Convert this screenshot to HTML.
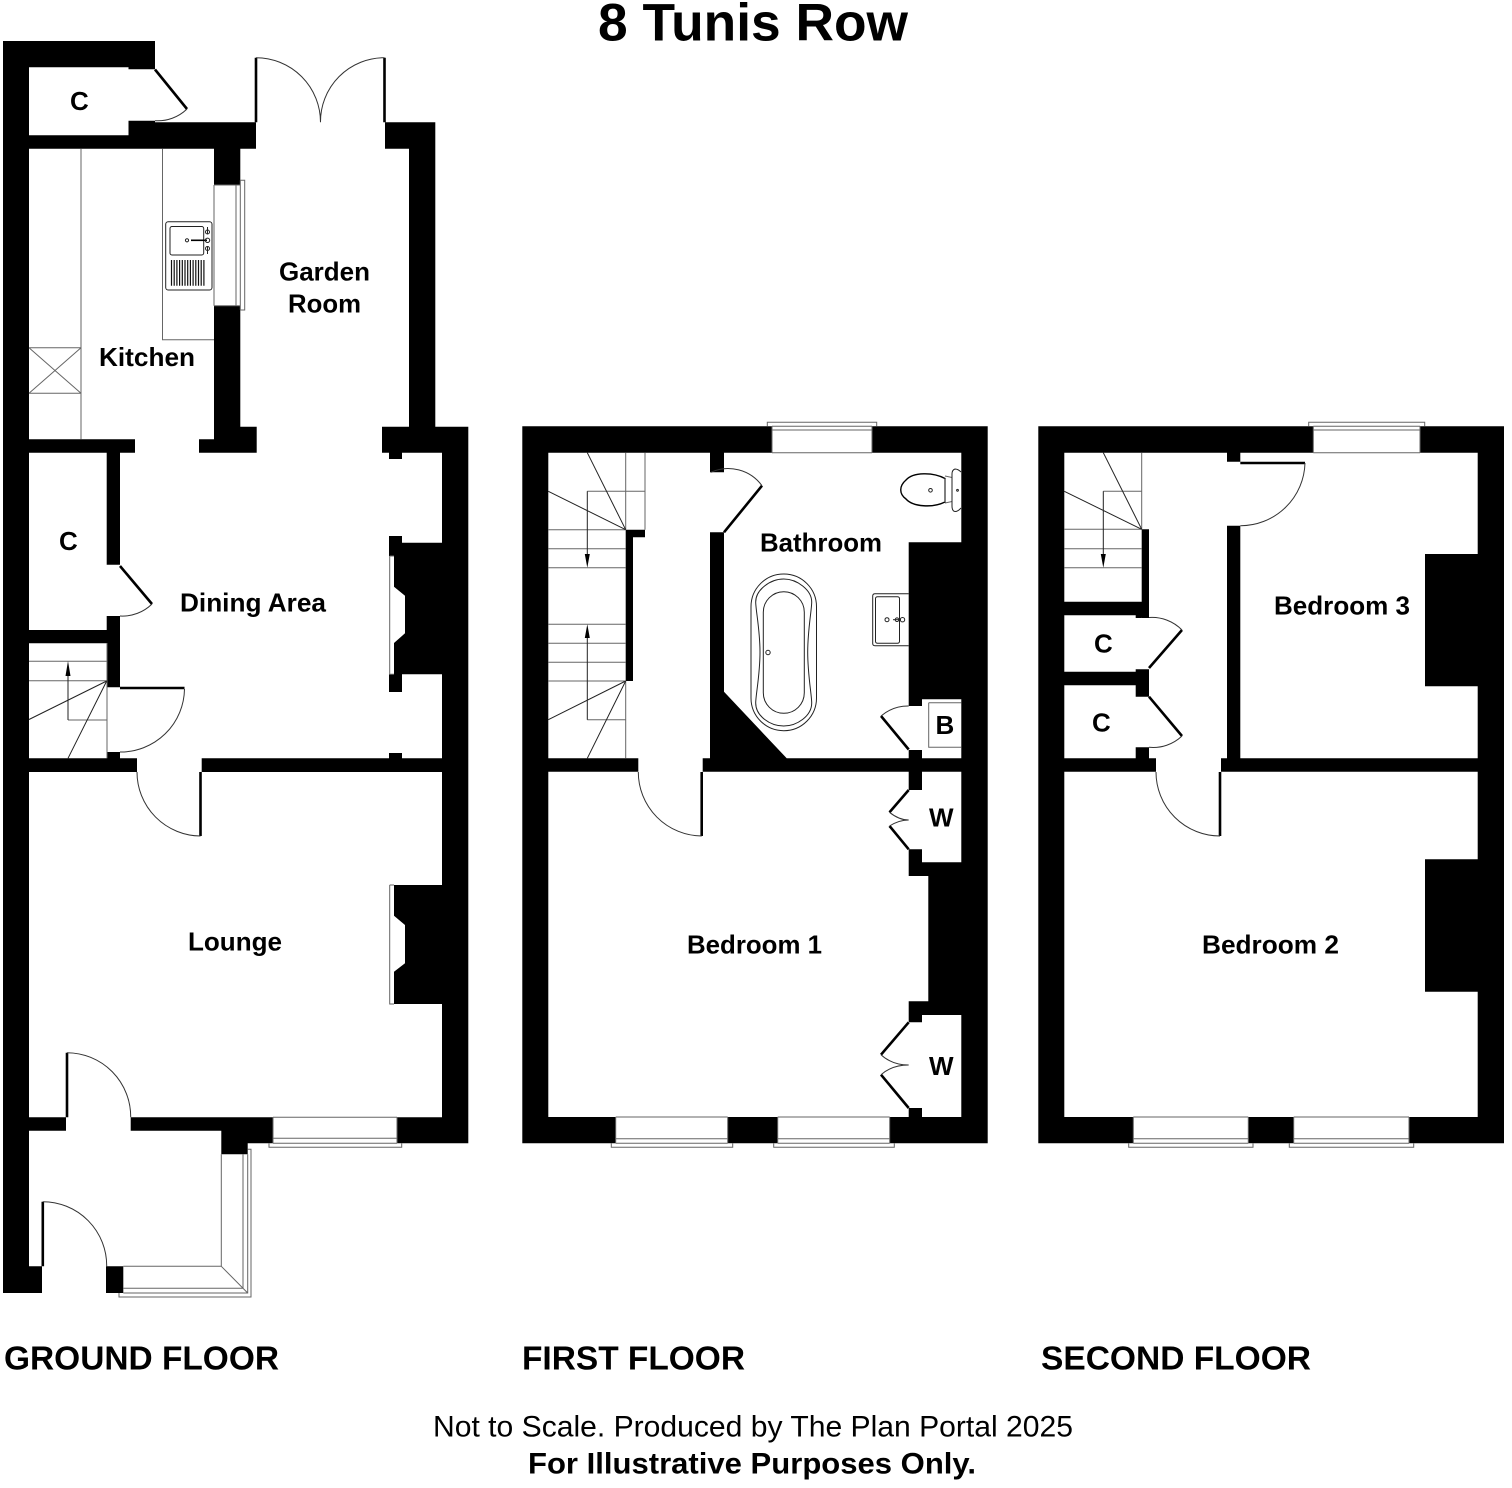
<!DOCTYPE html>
<html lang="en"><head><meta charset="utf-8"><title>8 Tunis Row</title>
<style>html,body{margin:0;padding:0;background:#fff}svg{display:block}
text{font-family:"Liberation Sans",Arial,sans-serif;font-weight:700;fill:#000}
.g{fill:none;stroke:#666;stroke-width:1}
.a{fill:none;stroke:#333;stroke-width:1}
.d{fill:none;stroke:#000;stroke-width:2.6}
.k{fill:none;stroke:#222;stroke-width:1}
</style></head><body>
<svg width="1512" height="1488" viewBox="0 0 1512 1488" xmlns="http://www.w3.org/2000/svg">
<rect width="1512" height="1488" fill="#fff"/>
<!-- Walls: ground floor -->
<path fill="#000" d="M3 41H29V1293H3Z M29 41H155V67.3H29Z M128.5 67.3H155V69.3H128.5Z M128.5 120.7H155V135.3H128.5Z M29 135.3H256V148.7H29Z M155 122.3H256V135.3H155Z
M214 148.7H240.3V185H214Z M214 305.7H240.3V452.7H214Z M240.3 426.7H256.7V452.7H240.3Z M199 439.3H214V452.7H199Z M29 439.3H135V452.7H29Z
M106.7 452.7H120V564.7H106.7Z M106.7 616H120V687.3H106.7Z M29 630H106.7V643.3H29Z M106.7 752H120V758.3H106.7Z M29 758.3H137V772H29Z M201.7 758.3H442V772H201.7Z
M385 122.3H435.3V148.7H385Z M409 148.7H435.3V426.7H409Z M382 426.7H468.3V452.7H382Z M389 452.7H402V459H389Z M442 452.7H468.3V1143.3H442Z
M394 556V586.7L405 595.7V633.3L394 643V674.3H442V542.7H402V556Z M389 536H402V556H389Z M389 674.3H402V692H389Z M389 753H402V758.3H389Z
M394 885V915.7L405 925V963.3L394 971.7V1004H442V885Z
M29 1117.3H66V1130.7H29Z M130.7 1117.3H273V1130.7H130.7Z M221.3 1130.7H273V1143.3H221.3Z M221.3 1143.3H247.7V1154.3H221.3Z M397 1117.3H442V1143.3H397Z
M29 1266.3H42V1293H29Z M106 1266.3H123.3V1293H106Z"/>
<!-- Walls: first floor -->
<path fill="#000" d="M522.3 426.3H772V452.7H522.3Z M872 426.3H987.7V452.7H872Z M522.3 452.7H548.3V1143.3H522.3Z M961.3 452.7H987.7V1143.3H961.3Z
M548.3 1117H615.7V1143.3H548.3Z M727.7 1117H777.7V1143.3H727.7Z M889.7 1117H961.3V1143.3H889.7Z
M548.3 758.3H638.3V771.7H548.3Z M702.7 758.3H961.3V771.7H702.7Z M710 452.7H724V472.3H710Z M710 532.3H724V758.3H710Z M724 691.7L786.7 758.3H724Z
M625.7 529.7H633V681H625.7Z M625.7 529.7H645V537.3H625.7Z M908.7 542.3H961.3V699.3H908.7Z M908.7 699.3H922V706H908.7Z
M908.7 750H922V790H908.7Z M908.7 849.3H922V862.3H908.7Z M908.7 862.3H928.3V876H908.7Z M928.3 862.3H961.3V1015H928.3Z M908.7 1001.3H928.3V1015H908.7Z M908.7 1015H922V1022.3H908.7Z M908.7 1108H922V1117H908.7Z"/>
<!-- Walls: second floor -->
<path fill="#000" d="M1038.3 426.3H1313.3V452.7H1038.3Z M1420 426.3H1504V452.7H1420Z M1038.3 452.7H1064.3V1143.3H1038.3Z M1477.7 452.7H1504V1143.3H1477.7Z
M1064.3 1117H1133.3V1143.3H1064.3Z M1248.3 1117H1293.7V1143.3H1248.3Z M1409 1117H1477.7V1143.3H1409Z
M1064.3 758.3H1156V771.7H1064.3Z M1221 758.3H1477.7V771.7H1221Z M1227 452.7H1240.3V461.7H1227Z M1227 525.7H1240.3V758.3H1227Z
M1141.7 529.3H1149V618H1141.7Z M1064.3 601.7H1141.7V615.3H1064.3Z M1135.7 615.3H1141.7V618H1135.7Z M1064.3 671.7H1135.7V685.3H1064.3Z M1135.7 669.3H1149V696.7H1135.7Z M1135.7 747.3H1149V758.3H1135.7Z
M1425 554H1477.7V686.3H1425Z M1425 859.3H1477.7V991.7H1425Z"/>
<!-- Door leaves -->
<path class="d" d="M155 69.5L187 109 M256 57.7V122.3 M384.5 57.7V122.3 M120 566L152 604 M120 688H184.5 M200.5 772V836 M67 1052.7V1117.3 M42.8 1201.7V1266.3
M724 532.3L762 485.7 M701.7 772V836 M908.7 749.5L881 716 M908.7 790L889.5 812.3 M889.5 826L908.7 849.3 M908.7 1022.3L881 1054.7 M881 1074.7L908.7 1108
M1240.3 463H1305 M1220 772V836 M1149 668L1182 630 M1149 696.7L1182 736"/>
<!-- Door arcs -->
<path class="a" d="M187 109A42 42 0 0 1 155 120.7 M256 57.7A64.5 64.5 0 0 1 320.5 122.3 M384.5 57.7A64 64 0 0 0 320.5 122.3 M152 604A42 42 0 0 1 120 616 M184.5 689A64 64 0 0 1 120 752
M137 772A64 64 0 0 0 200.5 836 M67 1052.7A64 64 0 0 1 130.7 1117.3 M42.8 1201.7A64 64 0 0 1 106.7 1266.3
M710.7 472.3A42 42 0 0 1 762 485.7 M638.3 772A64 64 0 0 0 701.7 836 M881 716A42 42 0 0 1 908.7 706 M889.5 812.3Q899 820 908.7 820 M889.5 826Q899 820 908.7 820
M881 1054.7Q892 1065 908.7 1065 M881 1074.7Q892 1065 908.7 1065
M1305 463A64.5 64.5 0 0 1 1240.3 525.7 M1156 772A64 64 0 0 0 1220 836 M1182 630A42 42 0 0 0 1149 617.5 M1182 736A42 42 0 0 1 1149 747.3"/>
<!-- Windows and grey lines: ground floor -->
<path class="g" d="M81 148.7V439.3 M29 347.7H81 M29 393.3H81 M29 347.7L81 393.3 M81 347.7L29 393.3 M162.5 148.7V339.7H214
M214 185V305.7 M214 185H240.3 M214 305.7H240.3 M236 185V305.7 M240.3 180.3H244.7V310H240.3 M240.3 180.3V310
M107 643V758.3 M29 661.3H107 M29 680.7H107 M68 720H107
M389.7 556V674.3H394 M389.7 556H394 M389.7 885V1004H394 M389.7 885H394
M273 1117.3H397 M273 1138.3H397 M273 1143.3H397 M269 1143.3V1147.3H401.7V1143.3 M273 1117.3V1143.3 M397 1117.3V1143.3
M123.3 1266.3H221.3V1154.3 M221.3 1266.3L247.7 1293 M243 1154.3V1288.3H123.3 M247.7 1154.3V1293H123.3 M119 1293V1297H251V1149.3H247.7"/>
<path class="k" d="M106.7 681L29 719.5 M106.7 681L68 758.3 M68 672V720"/>
<path fill="#000" d="M68 661L70.5 676H65.5Z"/>
<!-- Kitchen sink -->
<rect x="165.7" y="221.7" width="46.3" height="68.3" rx="2.5" class="k"/>
<rect x="170" y="226.5" width="33.7" height="28.5" rx="2" class="k"/>
<path d="M171.5 260V285.7 M174.2 260V285.7 M176.9 260V285.7 M179.6 260V285.7 M182.3 260V285.7 M185 260V285.7 M187.7 260V285.7 M190.4 260V285.7 M193.1 260V285.7 M195.8 260V285.7 M198.5 260V285.7 M201.2 260V285.7 M203.9 260V285.7" stroke="#111" stroke-width="1.2" fill="none"/>
<circle cx="187" cy="240.3" r="1.6" class="k"/><path d="M191 240.3H207" stroke="#000" stroke-width="1.6"/>
<circle cx="207.5" cy="240.3" r="2.2" class="k"/><circle cx="207.5" cy="232" r="2" class="k"/><circle cx="207.5" cy="248.5" r="2" class="k"/>
<path d="M207.5 227V234 M207.5 247V254" stroke="#222" stroke-width="1"/>
<!-- First floor grey lines and windows -->
<path class="g" d="M772 452.7H872 M772 426.3V452.7 M872 426.3V452.7 M772 430H872 M767.3 426.3V422.3H876.7V426.3 M772 426.3H872
M625.7 452.7V529.7 M645 452.7V529.7 M587.3 491.3H645 M548.3 529.7H625.7 M548.3 548.7H625.7 M548.3 567.7H625.7 M548.3 624.3H625.7 M548.3 643.3H625.7 M548.3 662.3H625.7 M548.3 681H625.7 M625.7 681V758.3 M587.3 719.7H625.7
M615.7 1117H727.7 M615.7 1138.7H727.7 M615.7 1143.3H727.7 M615.7 1117V1143.3 M727.7 1117V1143.3 M611.3 1143.3V1147.3H732.7V1143.3
M777.7 1117H889.7 M777.7 1138.7H889.7 M777.7 1143.3H889.7 M777.7 1117V1143.3 M889.7 1117V1143.3 M773.7 1143.3V1147.3H894.3V1143.3
M928.7 702.7H961.3 M928.7 702.7V747.3H961.3"/>
<path class="k" d="M625.7 529.7L587.3 452.7 M625.7 529.7L548.3 491.3 M587.3 491.3V556 M625.7 681L548.3 719.7 M625.7 681L587.3 758.3 M587.3 636V719.7"/>
<path fill="#000" d="M587.3 567.7L584.8 554H589.8Z M587.3 624.3L589.8 638H584.8Z"/>
<!-- Bath -->
<rect x="751" y="574" width="65.5" height="156.7" rx="32.7" class="k" stroke-width="1"/>
<path class="k" d="M783.7 579C797 579 811.7 590 811.7 602C811.7 610 807.7 630 807.7 652C807.7 675 811.7 695 811.7 703C811.7 716 797 726 783.7 726C770 726 755.7 716 755.7 703C755.7 695 760 675 760 652C760 630 755.7 610 755.7 602C755.7 590 770 579 783.7 579Z"/>
<rect x="763.3" y="591.7" width="41" height="121.6" rx="20.5" class="k"/>
<circle cx="768" cy="652.5" r="2.2" class="k"/>
<!-- Toilet -->
<path d="M945 478.5C933 472 913 472 906 480C899 486 899 494 906 499C913 507 933 508 945 502Z" fill="#fff" stroke="#000" stroke-width="1.4"/>
<path class="g" d="M945 476L952 477.5 M945 503L952 501.5 M945 478.5V502"/>
<path class="k" d="M961 472Q958 469 955 469Q952 470 952 474V506Q952 511 955 511.5Q958 511.5 961 508"/>
<circle cx="930.5" cy="490.3" r="1.8" class="k"/><circle cx="957.5" cy="490.3" r=".9" class="k"/>
<!-- Basin -->
<path class="k" d="M908.7 593.7H875Q872.7 593.7 872.7 596V643.5Q872.7 645.7 875 645.7H908.7"/>
<rect x="875.5" y="596.7" width="24" height="46.6" rx="2" class="k"/>
<circle cx="887" cy="619.7" r="2" class="k"/><circle cx="897" cy="619.7" r="1.8" class="k"/><circle cx="902.5" cy="619.7" r="2.2" class="k"/><path d="M893 619.7H901" stroke="#222" stroke-width="1"/>
<!-- Second floor grey lines and windows -->
<path class="g" d="M1313.3 452.7H1420 M1313.3 426.3V452.7 M1420 426.3V452.7 M1313.3 430H1420 M1313.3 426.3H1420 M1308.7 426.3V422.3H1424.7V426.3
M1141.7 452.7V529.3 M1103.3 491.3H1141.7 M1064.3 529.3H1141.7 M1064.3 548.7H1141.7 M1064.3 567.7H1141.7
M1133.3 1117H1248.3 M1133.3 1138.7H1248.3 M1133.3 1143.3H1248.3 M1133.3 1117V1143.3 M1248.3 1117V1143.3 M1128.7 1143.3V1147.3H1253V1143.3
M1293.7 1117H1409 M1293.7 1138.7H1409 M1293.7 1143.3H1409 M1293.7 1117V1143.3 M1409 1117V1143.3 M1289.3 1143.3V1147.3H1413.7V1143.3"/>
<path class="k" d="M1141.7 529.3L1103.3 452.7 M1141.7 529.3L1064.3 491.3 M1103.3 491.3V556"/>
<path fill="#000" d="M1103.3 567.7L1100.8 554H1105.8Z"/>
<!-- Labels -->
<text x="598" y="40.7" font-size="53" textLength="310" lengthAdjust="spacingAndGlyphs">8 Tunis Row</text>
<text x="70" y="110" font-size="26">C</text>
<text x="99" y="366" font-size="26" textLength="96" lengthAdjust="spacingAndGlyphs">Kitchen</text>
<text x="279" y="280.7" font-size="26" textLength="91" lengthAdjust="spacingAndGlyphs">Garden</text>
<text x="288" y="312.7" font-size="26" textLength="73" lengthAdjust="spacingAndGlyphs">Room</text>
<text x="59" y="550" font-size="26">C</text>
<text x="180" y="611.7" font-size="26" textLength="146" lengthAdjust="spacingAndGlyphs">Dining Area</text>
<text x="188" y="950.7" font-size="26" textLength="94" lengthAdjust="spacingAndGlyphs">Lounge</text>
<text x="760" y="551.7" font-size="26" textLength="122" lengthAdjust="spacingAndGlyphs">Bathroom</text>
<text x="687" y="953.3" font-size="26" textLength="135" lengthAdjust="spacingAndGlyphs">Bedroom 1</text>
<text x="935.5" y="734" font-size="26">B</text>
<text x="929" y="826.7" font-size="26">W</text>
<text x="929" y="1075" font-size="26">W</text>
<text x="1274" y="614.3" font-size="26" textLength="136" lengthAdjust="spacingAndGlyphs">Bedroom 3</text>
<text x="1094" y="652.3" font-size="26">C</text>
<text x="1092" y="731.7" font-size="26">C</text>
<text x="1202" y="953.3" font-size="26" textLength="137" lengthAdjust="spacingAndGlyphs">Bedroom 2</text>
<text x="4" y="1369.3" font-size="33.4" textLength="275" lengthAdjust="spacingAndGlyphs">GROUND FLOOR</text>
<text x="522" y="1369.3" font-size="33.4" textLength="223" lengthAdjust="spacingAndGlyphs">FIRST FLOOR</text>
<text x="1041" y="1369.3" font-size="33.4" textLength="270" lengthAdjust="spacingAndGlyphs">SECOND FLOOR</text>
<text x="433" y="1436.7" font-size="30" style="font-weight:400" textLength="640" lengthAdjust="spacingAndGlyphs">Not to Scale. Produced by The Plan Portal 2025</text>
<text x="528" y="1473.5" font-size="30" textLength="448" lengthAdjust="spacingAndGlyphs">For Illustrative Purposes Only.</text>
</svg>
</body></html>
